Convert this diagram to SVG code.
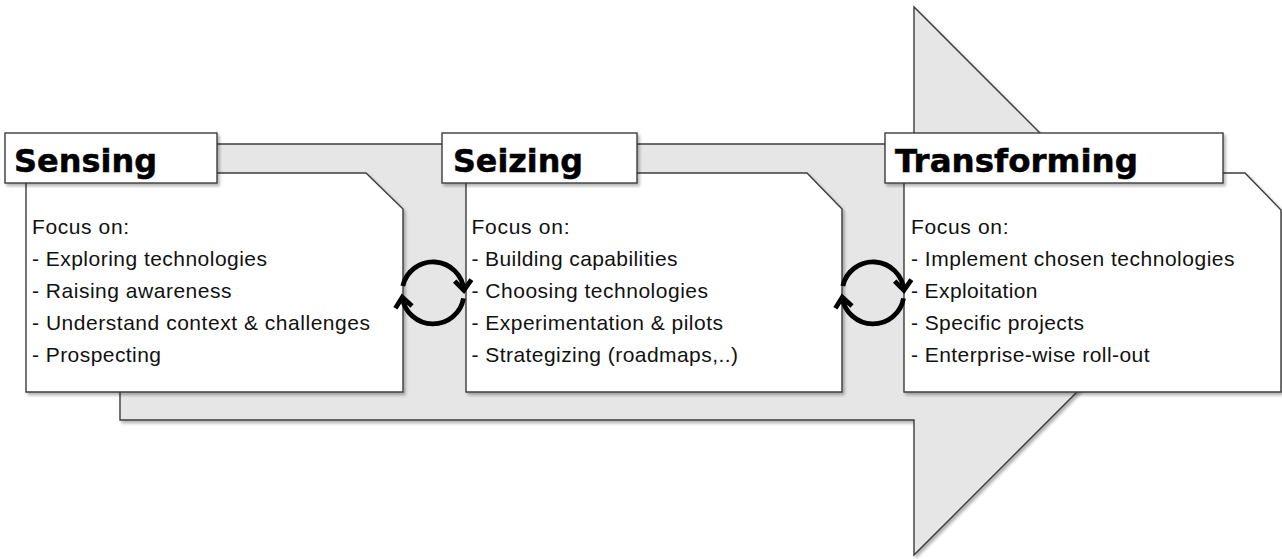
<svg xmlns="http://www.w3.org/2000/svg" width="1282" height="559" viewBox="0 0 1282 559">
<defs>
<filter id="sh" x="-5%" y="-5%" width="115%" height="115%">
<feDropShadow dx="2" dy="2.5" stdDeviation="1.5" flood-color="#000" flood-opacity="0.3"/>
</filter>
<style>
.band{fill:#e6e6e6;stroke:#3c3c3c;stroke-width:1.4;filter:url(#sh)}
.box{fill:#fff;stroke:#3c3c3c;stroke-width:1.4;filter:url(#sh)}
.hd{font-family:"DejaVu Sans","Liberation Sans",sans-serif;font-weight:bold;font-size:32px;fill:#000;stroke:#000;stroke-width:0.5}
.tx{font-family:"Liberation Sans",Arial,sans-serif;font-size:21px;fill:#111}
.cyc{fill:none;stroke:#000;stroke-width:4.8}
</style>
</defs>
<rect width="1282" height="559" fill="#fff"/>
<g id="flow-arrow">
<path class="band" d="M120,144 H914 V7 L1188,281 L914,555 V420 H120 Z"/>
</g>
<g id="sensing">
<path class="box" d="M26,173 H366 L403,209 V392 H26 Z"/>
<rect class="box" x="5" y="133" width="212" height="50"/>
<text class="hd" x="14" y="172" textLength="143" lengthAdjust="spacingAndGlyphs">Sensing</text>
<text class="tx" x="32" y="234" textLength="97" lengthAdjust="spacing">Focus on:</text>
<text class="tx" x="32" y="266" textLength="235" lengthAdjust="spacing">- Exploring technologies</text>
<text class="tx" x="32" y="298" textLength="199.5" lengthAdjust="spacing">- Raising awareness</text>
<text class="tx" x="32" y="330" textLength="338" lengthAdjust="spacing">- Understand context &amp; challenges</text>
<text class="tx" x="32" y="362" textLength="129" lengthAdjust="spacing">- Prospecting</text>
</g>
<g id="seizing">
<path class="box" d="M466,173 H807 L842,209 V392 H466 Z"/>
<rect class="box" x="442" y="133" width="195" height="50"/>
<text class="hd" x="453" y="172" textLength="130" lengthAdjust="spacingAndGlyphs">Seizing</text>
<text class="tx" x="471.5" y="234" textLength="98" lengthAdjust="spacing">Focus on:</text>
<text class="tx" x="471.5" y="266" textLength="206" lengthAdjust="spacing">- Building capabilities</text>
<text class="tx" x="471.5" y="298" textLength="236.5" lengthAdjust="spacing">- Choosing technologies</text>
<text class="tx" x="471.5" y="330" textLength="251.5" lengthAdjust="spacing">- Experimentation &amp; pilots</text>
<text class="tx" x="471.5" y="362" textLength="266.5" lengthAdjust="spacing">- Strategizing (roadmaps,..)</text>
</g>
<g id="transforming">
<path class="box" d="M904,173 H1245 L1281,210 V392 H904 Z"/>
<rect class="box" x="885" y="133" width="338" height="50"/>
<text class="hd" x="895" y="172" textLength="243" lengthAdjust="spacingAndGlyphs">Transforming</text>
<text class="tx" x="911" y="234" textLength="97.5" lengthAdjust="spacing">Focus on:</text>
<text class="tx" x="911" y="266" textLength="323.5" lengthAdjust="spacing">- Implement chosen technologies</text>
<text class="tx" x="911" y="298" textLength="126.5" lengthAdjust="spacing">- Exploitation</text>
<text class="tx" x="911" y="330" textLength="173" lengthAdjust="spacing">- Specific projects</text>
<text class="tx" x="911" y="362" textLength="238.5" lengthAdjust="spacing">- Enterprise-wise roll-out</text>
</g>
<g id="connectors">
<g id="cycle-1" transform="translate(433,293)">
<path class="cyc" d="M-30.2,-7 A31,31 0 0 1 30.9,-2.7"/>
<polyline class="cyc" points="21.7,-11.9 30.9,-2.7 38.4,-13.3"/>
<path class="cyc" d="M30.5,5.4 A31,31 0 0 1 -30.7,4.3"/>
<polyline class="cyc" points="-37.6,15.3 -30.7,4.3 -21,13"/>
</g>
<g id="cycle-2" transform="translate(873,293)">
<path class="cyc" d="M-30.2,-7 A31,31 0 0 1 30.9,-2.7"/>
<polyline class="cyc" points="21.7,-11.9 30.9,-2.7 38.4,-13.3"/>
<path class="cyc" d="M30.5,5.4 A31,31 0 0 1 -30.7,4.3"/>
<polyline class="cyc" points="-37.6,15.3 -30.7,4.3 -21,13"/>
</g>
</g>
</svg>
